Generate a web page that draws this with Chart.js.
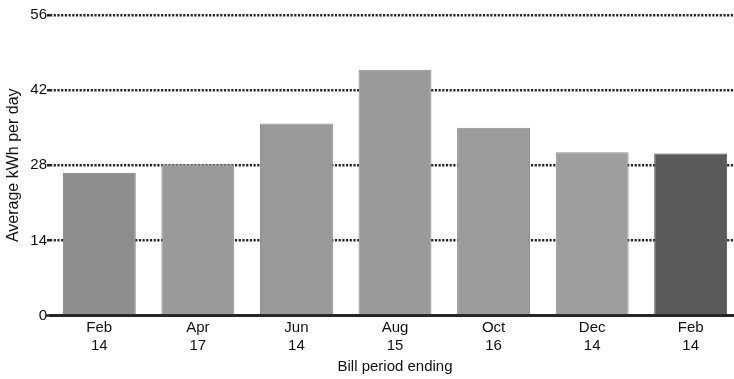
<!DOCTYPE html>
<html>
<head>
<meta charset="utf-8">
<script src="https://cdn.jsdelivr.net/npm/chart.js@4"></script>
<style>
  html, body { margin: 0; padding: 0; background: #fff; overflow: hidden; }
  #wrap { width: 740px; height: 379px; }
</style>
</head>
<body>
<div id="wrap"><canvas id="c" width="740" height="379"></canvas></div>
<script>
// Billing periods (month / year) and average daily use
const months = ["Feb", "Apr", "Jun", "Aug", "Oct", "Dec", "Feb"];
const years = ["14", "17", "14", "15", "16", "14", "14"];
const kwhPerDay = [26.6, 28.2, 35.8, 45.8, 35.0, 30.4, 30.2];
const yTicks = [0, 14, 28, 42, 56];
const barColors = ["#8d8d8d", "#9a9a9a", "#999999", "#9a9a9a", "#9b9b9b", "#9e9e9e", "#5a5a5a"];
const barEdges = ["#7c7c7c", "#8a8a8a", "#8a8a8a", "#8a8a8a", "#8b8b8b", "#8e8e8e", "#4c4c4c"];

const labels = months.map((m, i) => [m, years[i]]);
const FONT = "'Liberation Sans', Arial, sans-serif";
const TEXT = "#111111";

// short solid tick next to the zero label
const zeroTick = {
  id: "zeroTick",
  afterDraw(chart) {
    const y = chart.scales.y;
    const py = y.getPixelForValue(0);
    const c = chart.ctx;
    c.save();
    c.strokeStyle = "#2a2a2a";
    c.lineWidth = 2.5;
    c.beginPath();
    c.moveTo(y.right - 4, py);
    c.lineTo(chart.chartArea.left, py);
    c.stroke();
    c.restore();
  }
};

new Chart(document.getElementById("c"), {
  type: "bar",
  data: {
    labels: labels,
    datasets: [{
      data: kwhPerDay,
      backgroundColor: barColors,
      borderColor: barEdges,
      borderWidth: 1,
      barPercentage: 0.74,
      categoryPercentage: 1.0
    }]
  },
  options: {
    responsive: false,
    animation: false,
    layout: { padding: { top: 15, right: 0, bottom: 0, left: 0 } },
    plugins: { legend: { display: false }, tooltip: { enabled: false } },
    scales: {
      x: {
        grid: { display: false, drawTicks: false },
        border: { display: true, color: "#262626", width: 3 },
        ticks: {
          color: TEXT,
          padding: 4,
          maxRotation: 0,
          autoSkip: false,
          font: { family: FONT, size: 15, lineHeight: 1.15 }
        },
        title: {
          display: true,
          text: "Bill period ending",
          color: TEXT,
          padding: { top: 0, bottom: 3 },
          font: { family: FONT, size: 15, lineHeight: 1.2 }
        },
        afterFit(scale) { scale.height = 63.5; }
      },
      y: {
        min: 0,
        max: 56,
        afterBuildTicks(scale) { scale.ticks = yTicks.map(v => ({ value: v })); },
        grid: {
          color: ctx => (ctx.tick && ctx.tick.value === 0) ? "rgba(0,0,0,0)" : "#262626",
          lineWidth: 2.5,
          drawTicks: true,
          tickLength: 3
        },
        border: { display: false, dash: [2.2, 1.5] },
        ticks: {
          color: TEXT,
          padding: 0,
          font: { family: FONT, size: 15 }
        },
        title: {
          display: true,
          text: "Average kWh per day",
          color: TEXT,
          padding: { top: 4, bottom: 0 },
          font: { family: FONT, size: 16, lineHeight: 1.2 }
        },
        afterFit(scale) { scale.width = 50; }
      }
    }
  },
  plugins: [zeroTick]
});
</script>
</body>
</html>
